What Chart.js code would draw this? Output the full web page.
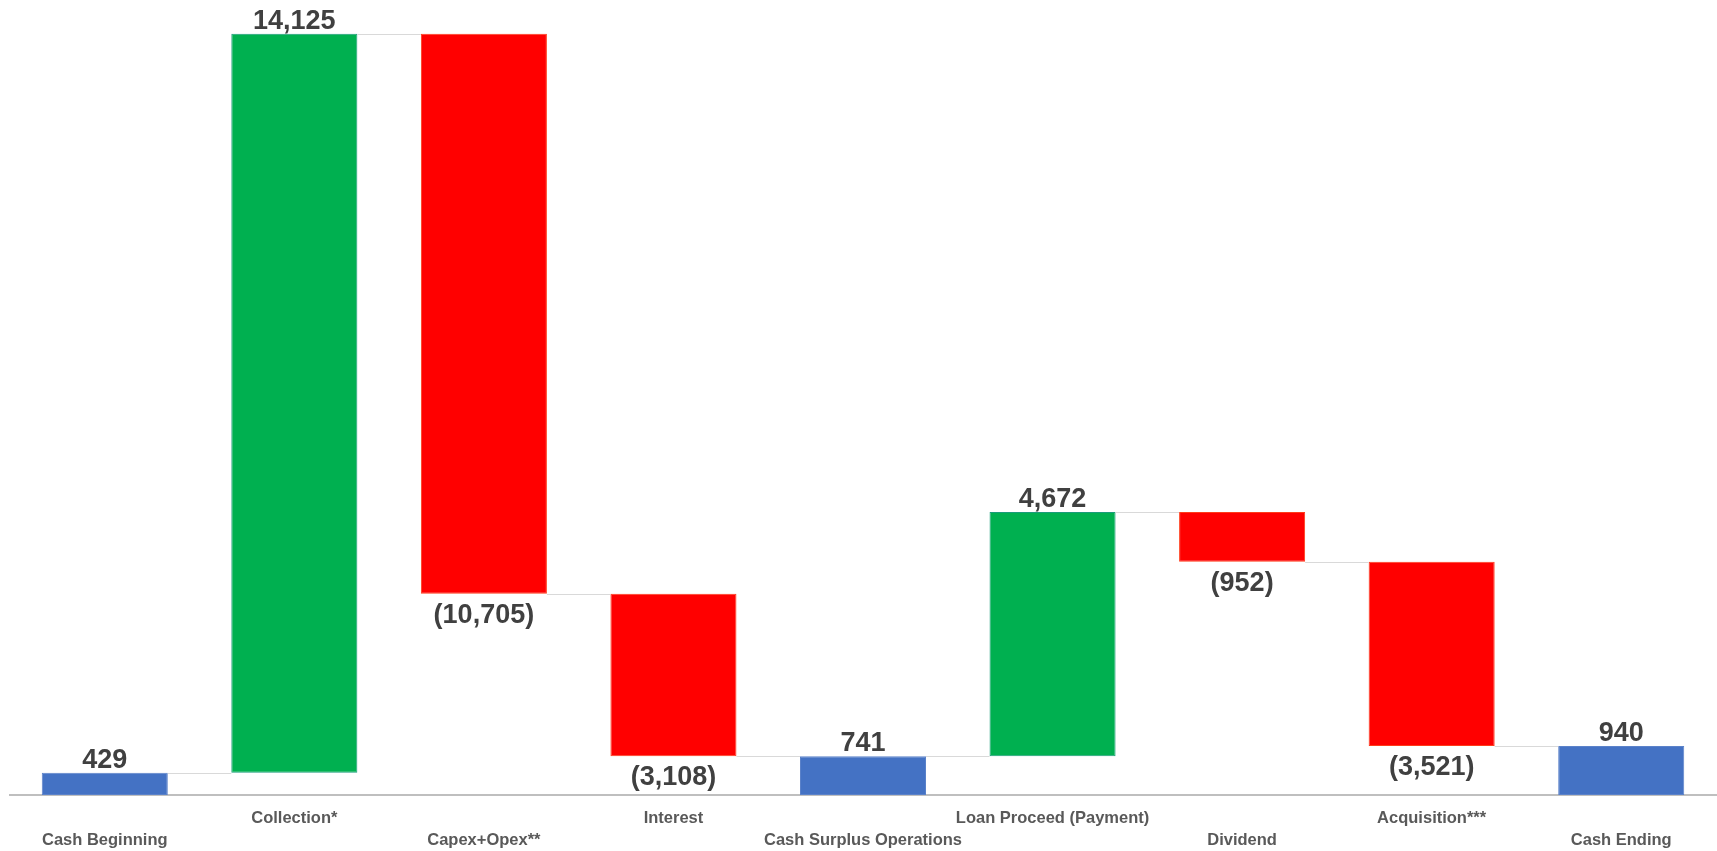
<!DOCTYPE html>
<html>
<head>
<meta charset="utf-8">
<title>Cash Flow Waterfall</title>
<script src="https://cdn.jsdelivr.net/npm/chart.js@4.4.1/dist/chart.umd.min.js"></script>
<style>
  html, body { margin: 0; padding: 0; background: #fff; }
  #wrap { width: 1717px; height: 851px; position: relative; }
</style>
</head>
<body>
<div id="wrap"><canvas id="waterfall"></canvas></div>
<script>
// Waterfall data
const categories = ["Cash Beginning", "Collection*", "Capex+Opex**", "Interest", "Cash Surplus Operations",
                    "Loan Proceed (Payment)", "Dividend", "Acquisition***", "Cash Ending"];
const values = [429, 14125, -10705, -3108, 741, 4672, -952, -3521, 940];
const kinds = ["total", "up", "down", "down", "total", "up", "down", "down", "total"];
const valueLabels = ["429", "14,125", "(10,705)", "(3,108)", "741", "4,672", "(952)", "(3,521)", "940"];
const yMax = 15200;

const colors = { total: "#4472C4", up: "#00B050", down: "#FF0000" };
const edges = { total: "#5b82c9", up: "#1a9c7a", down: "#ff3b1a" };

// build floating ranges + running level after each bar
let running = 0;
const ranges = [];
const levels = [];
values.forEach((v, i) => {
    if (kinds[i] === "total") {
        ranges.push([0, v]);
        running = v;
    } else {
        ranges.push([running, running + v]);
        running += v;
    }
    levels.push(running);
});

// alternate label rows: odd index on upper row, even on lower row
const tickLabels = categories.map((c, i) => i % 2 === 1 ? [c, ""] : ["", c]);

const FONT = '"Liberation Sans", Arial, sans-serif';

// connectors + value labels
const waterfallPlugin = {
    id: "waterfallExtras",
    afterDatasetsDraw(chart) {
        const ctx = chart.ctx;
        const y = chart.scales.y;
        const meta = chart.getDatasetMeta(0);
        ctx.save();
        // connector lines
        ctx.strokeStyle = "#d9d9d9";
        ctx.lineWidth = 1;
        for (let i = 0; i < meta.data.length - 1; i++) {
            const a = meta.data[i], b = meta.data[i + 1];
            const py = Math.round(y.getPixelForValue(levels[i])) + 0.5;
            ctx.beginPath();
            ctx.moveTo(a.x + a.width / 2, py);
            ctx.lineTo(b.x - b.width / 2, py);
            ctx.stroke();
        }
        // value labels
        ctx.fillStyle = "#404040";
        ctx.font = "bold 27px " + FONT;
        ctx.textAlign = "center";
        ctx.textBaseline = "alphabetic";
        meta.data.forEach((bar, i) => {
            const top = Math.min(bar.y, bar.base);
            const bottom = Math.max(bar.y, bar.base);
            if (kinds[i] === "down") {
                ctx.fillText(valueLabels[i], bar.x, bottom + 29);
            } else {
                ctx.fillText(valueLabels[i], bar.x, top - 5);
            }
        });
        ctx.restore();
    }
};

new Chart(document.getElementById("waterfall"), {
    type: "bar",
    data: {
        labels: tickLabels,
        datasets: [{
            data: ranges,
            backgroundColor: kinds.map(k => colors[k]),
            borderColor: kinds.map(k => edges[k]),
            borderWidth: 1,
            borderSkipped: false,
            barPercentage: 0.665,
            categoryPercentage: 1.0
        }]
    },
    options: {
        responsive: true,
        maintainAspectRatio: false,
        animation: false,
        layout: { padding: { left: 10, right: 1, top: 0, bottom: -12 } },
        plugins: {
            legend: { display: false },
            tooltip: { enabled: false }
        },
        scales: {
            x: {
                grid: { display: false, drawTicks: false },
                border: { display: true, color: "#bfbfbf", width: 2 },
                ticks: {
                    color: "#595959",
                    font: { family: FONT, size: 16.5, weight: "bold", lineHeight: 1.33 },
                    padding: 12,
                    maxRotation: 0,
                    autoSkip: false
                }
            },
            y: {
                display: false,
                min: 0,
                max: yMax
            }
        }
    },
    plugins: [waterfallPlugin]
});
</script>
</body>
</html>
